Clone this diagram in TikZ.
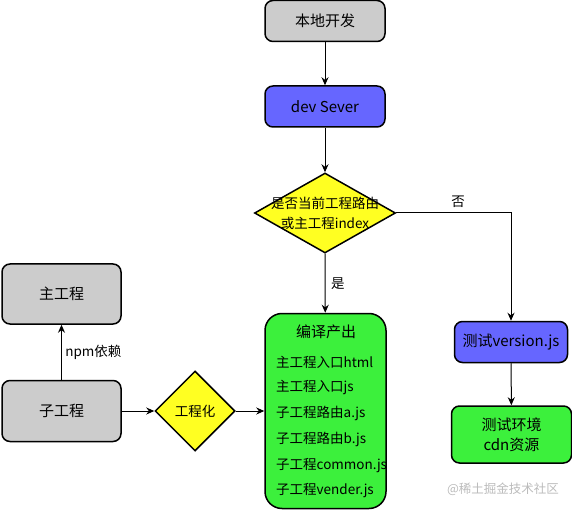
\documentclass[tikz,border=0pt]{standalone}
\usepackage{fontspec}
\setmainfont{Noto Sans CJK SC}
\usepackage{xcolor}
\usetikzlibrary{shapes.geometric,arrows.meta}

\definecolor{boxgray}{HTML}{CCCCCC}
\definecolor{boxblue}{HTML}{6666FF}
\definecolor{boxgreen}{HTML}{3CF03C}
\definecolor{boxyellow}{HTML}{FFFF22}
\definecolor{markgray}{HTML}{BBBBBB}

\begin{document}
\begin{tikzpicture}[x=1pt, y=-1pt, font=\fontsize{15}{18}\selectfont,
    box/.style={rectangle, rounded corners=8pt, draw, line width=1.5pt, minimum width=120pt, minimum height=41pt},
    graybox/.style={box, fill=boxgray},
    bluebox/.style={box, fill=boxblue},
    greenbox/.style={box, fill=boxgreen},
    decision/.style={diamond, draw, line width=1.5pt, fill=boxyellow, inner sep=0pt},
    small/.style={font=\fontsize{13.5}{16}\selectfont},
    flow/.style={-{Stealth[length=8pt,width=7pt]}, line width=1pt}]
    \useasboundingbox (0,0) rectangle (572,510);

    \node (local) [graybox] at (325,21) {本地开发};
    \node (dev) [bluebox] at (325,106.5) {dev Sever};
    \node (route) [decision, minimum width=141pt, minimum height=80pt] at (325,213) {};
    \node (routetext) [align=center, font=\fontsize{13.5}{20}\selectfont] at (route) {是否当前工程路由\\或主工程index};
    \node (build) [greenbox, rounded corners=17pt, minimum width=121pt, minimum height=195pt] at (325.5,411) {};
    \node (buildtitle) at (326,332) {编译产出};
    \foreach \t [count=\i] in {主工程入口html, 主工程入口js, 子工程路由a.js, 子工程路由b.js, 子工程common.js, 子工程vender.js}
        \node (out\i) [small, anchor=west, inner sep=0pt] at (276, 336.2+25.8*\i) {\t};

    \node (verjs) [bluebox, minimum width=113pt] at (511,342) {测试version.js};
    \node (env) [greenbox, minimum height=57pt, align=center, font=\fontsize{15}{20}\selectfont] at (511.5,434.5) {测试环境\\cdn资源};

    \node (main) [graybox, minimum width=119pt, minimum height=60pt] at (61.5,294) {主工程};
    \node (sub) [graybox, minimum width=119pt, minimum height=61pt] at (61.5,411) {子工程};
    \node (eng) [decision, small, minimum width=80pt, minimum height=80pt] at (195,411) {工程化};

    \node (mark) [text=markgray, font=\fontsize{12.5}{15}\selectfont] at (503,489) {@稀土掘金技术社区};

    \draw [flow] (local) -- (dev);
    \draw [flow] (dev) -- (route);
    \draw [flow] (route) -- node[right=2pt, small] {是} (build);
    \draw [flow] (route.east) -| node[pos=0.27, above=2pt, small] {否} (verjs);
    \draw [flow] (verjs) -- (env);
    \draw [flow] (sub) -- node[right, small] {npm依赖} (main);
    \draw [flow] (sub) -- (eng);
    \draw [flow] (eng) -- (build);
\end{tikzpicture}
\end{document}
